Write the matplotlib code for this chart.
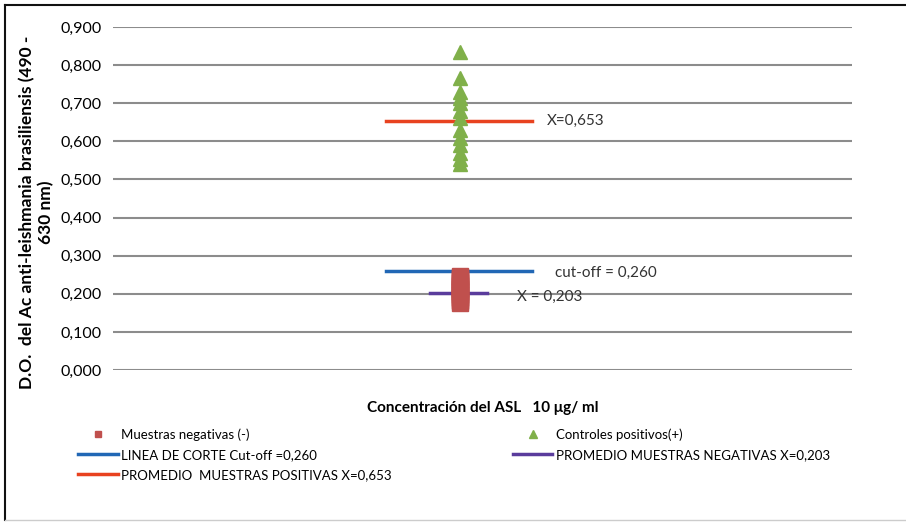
import matplotlib
matplotlib.use('Agg')
import matplotlib.pyplot as plt
from matplotlib.lines import Line2D

# datos
positivos = [0.835, 0.765, 0.730, 0.715, 0.700, 0.680, 0.660, 0.630,
             0.610, 0.590, 0.570, 0.555, 0.540]
negativos = [0.176, 0.180, 0.184, 0.188, 0.192, 0.196, 0.200, 0.204,
             0.208, 0.212, 0.216, 0.220, 0.224, 0.228, 0.232, 0.236,
             0.240, 0.244, 0.248]
corte = 0.260
prom_neg = 0.203
prom_pos = 0.653
y_ticks = [0.0, 0.1, 0.2, 0.3, 0.4, 0.5, 0.6, 0.7, 0.8, 0.9]
y_labels = ['0,000', '0,100', '0,200', '0,300', '0,400', '0,500',
            '0,600', '0,700', '0,800', '0,900']

plt.rcParams['font.family'] = ['Lato', 'DejaVu Sans']

fig = plt.figure(figsize=(9.06, 5.25), dpi=100)
ax = fig.add_axes([0.1247, 0.295, 0.8153, 0.6536])

x0 = 0.47
ax.plot([x0] * len(negativos), negativos, 's', color='#c0504d',
        markeredgecolor='#c0504d', markersize=11, zorder=3)
ax.plot([x0] * len(positivos), positivos, '^', color='#80b04a',
        markeredgecolor='#80b04a', markersize=10, zorder=3)
ax.plot([0.369, 0.567], [corte, corte], color='#2167b5', lw=2.5, zorder=2)
ax.plot([0.429, 0.507], [prom_neg, prom_neg], color='#5a3c9c', lw=2.5, zorder=2)
ax.plot([0.369, 0.567], [prom_pos, prom_pos], color='#e8421f', lw=2.5, zorder=2)

ax.text(0.588, prom_pos, 'X=0,653', fontsize=11, va='center', color='#333333')
ax.text(0.598, corte - 0.005, 'cut-off = 0,260', fontsize=11, va='center',
        color='#333333')
ax.text(0.547, prom_neg - 0.012, 'X = 0,203', fontsize=11, va='center',
        color='#333333')

ax.set_xlim(0, 1)
ax.set_ylim(0, 0.9)
ax.set_yticks(y_ticks)
ax.set_yticklabels(y_labels, fontsize=11.5)
ax.set_xticks([])
ax.tick_params(axis='y', length=0, pad=8)
ax.yaxis.grid(True, color='#8c8c8c', lw=1.5)
ax.set_axisbelow(True)
for s in ax.spines.values():
    s.set_visible(False)

ax.set_ylabel('D.O.  del Ac anti-leishmania brasiliensis (490 -\n630 nm)',
              fontsize=12.5, fontweight='bold')
ax.yaxis.set_label_coords(-0.079, 0.46)
ax.set_xlabel('Concentración del ASL   10 μg/ ml', fontsize=11,
              fontweight='bold', labelpad=22)

handles = [
    Line2D([], [], ls='', marker='s', color='#c0504d', markersize=5),
    Line2D([], [], color='#2167b5', lw=2.5),
    Line2D([], [], color='#e8421f', lw=2.5),
    Line2D([], [], ls='', marker='^', color='#80b04a', markersize=6),
    Line2D([], [], color='#5a3c9c', lw=2.5),
]
labels = ['Muestras negativas (-)',
          'LINEA DE CORTE Cut-off =0,260',
          'PROMEDIO  MUESTRAS POSITIVAS X=0,653',
          'Controles positivos(+)',
          'PROMEDIO MUESTRAS NEGATIVAS X=0,203']
fig.legend(handles, labels, ncol=2, loc='upper left',
           bbox_to_anchor=(0.073, 0.207), frameon=False, fontsize=9.5,
           handlelength=3.0, handletextpad=0.25, columnspacing=9.2,
           labelspacing=0.62)

# marco exterior
fig.add_artist(Line2D([0.005, 0.005], [0.01, 0.99], color='#111111', lw=1.5))
fig.add_artist(Line2D([0.005, 1.0], [0.99, 0.99], color='#111111', lw=1.5))
fig.add_artist(Line2D([0.005, 1.0], [0.01, 0.01], color='#cccccc', lw=1))

fig.savefig('out.png', dpi=100)
